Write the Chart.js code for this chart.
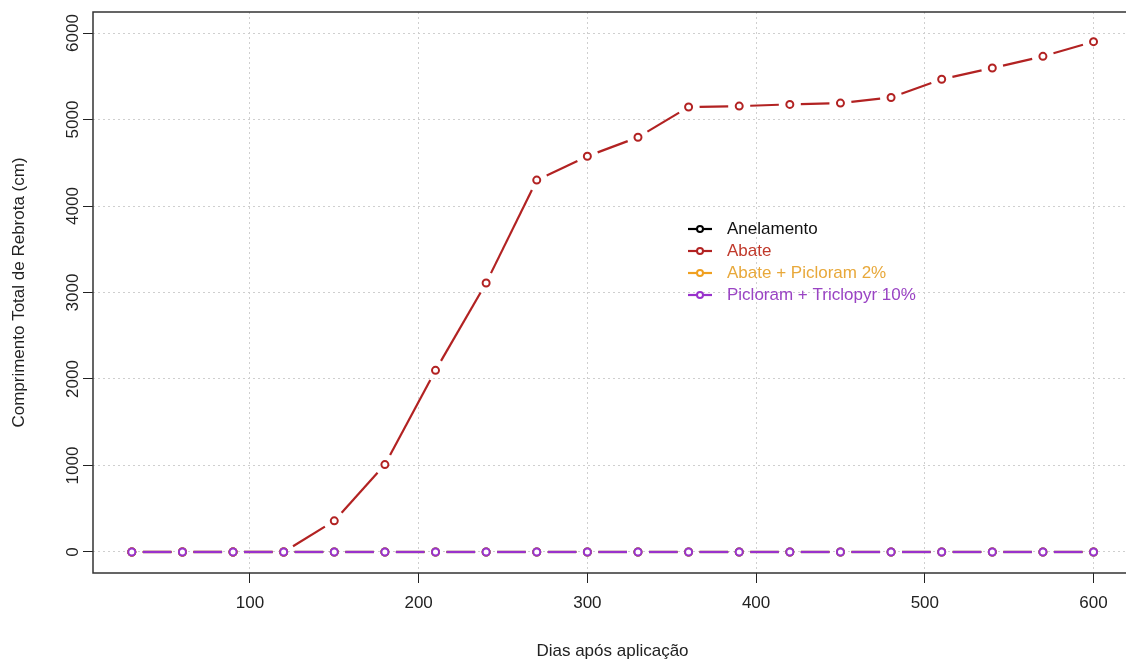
<!DOCTYPE html>
<html>
<head>
<meta charset="utf-8">
<script src="https://cdn.jsdelivr.net/npm/chart.js@4.4.1/dist/chart.umd.min.js"></script>
<style>
    html, body { margin: 0; padding: 0; background: #fff; overflow: hidden; }
    #wrap { width: 1140px; height: 662px; }
</style>
</head>
<body>
<div id="wrap"><canvas id="myChart" width="1140" height="662"></canvas></div>
<script>
// Chart data
const dias = [30, 60, 90, 120, 150, 180, 210, 240, 270, 300, 330, 360, 390, 420, 450, 480, 510, 540, 570, 600];
const anelamento = [0, 0, 0, 0, 0, 0, 0, 0, 0, 0, 0, 0, 0, 0, 0, 0, 0, 0, 0, 0];
const abate = [0, 0, 0, 0, 360, 1010, 2100, 3110, 4300, 4575, 4795, 5145, 5155, 5175, 5190, 5255, 5465, 5595, 5730, 5900];
const abatePicloram = [0, 0, 0, 0, 0, 0, 0, 0, 0, 0, 0, 0, 0, 0, 0, 0, 0, 0, 0, 0];
const picloramTriclopyr = [0, 0, 0, 0, 0, 0, 0, 0, 0, 0, 0, 0, 0, 0, 0, 0, 0, 0, 0, 0];
const seriesNames = ['Anelamento', 'Abate', 'Abate + Picloram 2%', 'Picloram + Triclopyr 10%'];
const xTicks = [100, 200, 300, 400, 500, 600];
const yTicks = [0, 1000, 2000, 3000, 4000, 5000, 6000];

const colors = ['#000000', '#b22222', '#f0a020', '#9932cc'];
const textColors = ['#111111', '#c0392b', '#e8a83a', '#9a44c4'];
const FONT = "'Liberation Sans', Arial, sans-serif";

// Build datasets from the series arrays
const seriesValues = [anelamento, abate, abatePicloram, picloramTriclopyr];
const datasets = seriesValues.map((vals, i) => ({
    label: seriesNames[i],
    data: dias.map((d, j) => ({ x: d, y: vals[j] })),
    borderColor: colors[i],
    backgroundColor: colors[i],
    pointBorderColor: colors[i],
    pointBackgroundColor: '#ffffff',
    pointRadius: 3.5,
    pointBorderWidth: 2,
    showLine: false,
    order: 4 - i
}));

// Lines with gaps around the points (like R type = "b")
const gapLines = {
    id: 'gapLines',
    beforeDatasetDraw(chart, args) {
        const ctx = chart.ctx;
        const pts = args.meta.data;
        const gap = 11;
        ctx.save();
        ctx.strokeStyle = colors[args.index];
        ctx.lineWidth = 2.2;
        ctx.lineCap = 'butt';
        for (let i = 0; i < pts.length - 1; i++) {
            const p0 = pts[i], p1 = pts[i + 1];
            const dx = p1.x - p0.x, dy = p1.y - p0.y;
            const len = Math.sqrt(dx * dx + dy * dy);
            if (len <= 2 * gap) continue;
            const ux = dx / len, uy = dy / len;
            ctx.beginPath();
            ctx.moveTo(p0.x + ux * gap, p0.y + uy * gap);
            ctx.lineTo(p1.x - ux * gap, p1.y - uy * gap);
            ctx.stroke();
        }
        ctx.restore();
    }
};

// Box, y tick labels, axis title and legend
const decorations = {
    id: 'decorations',
    afterDraw(chart) {
        const ctx = chart.ctx;
        const area = chart.chartArea;
        const yScale = chart.scales.y;
        ctx.save();

        // Box around plot region
        ctx.strokeStyle = '#333';
        ctx.lineWidth = 1.5;
        ctx.strokeRect(area.left, area.top, area.right - area.left, area.bottom - area.top);

        // Rotated y tick labels
        ctx.fillStyle = '#222';
        ctx.font = '17px ' + FONT;
        ctx.textAlign = 'center';
        ctx.textBaseline = 'middle';
        yTicks.forEach(v => {
            ctx.save();
            ctx.translate(73, yScale.getPixelForValue(v));
            ctx.rotate(-Math.PI / 2);
            ctx.fillText(String(v), 0, 0);
            ctx.restore();
        });

        // Y axis title
        ctx.save();
        ctx.translate(19, (area.top + area.bottom) / 2);
        ctx.rotate(-Math.PI / 2);
        ctx.fillText('Comprimento Total de Rebrota (cm)', 0, 0);
        ctx.restore();

        // Legend
        const lx = 688, ly = 229, step = 22;
        seriesNames.forEach((name, i) => {
            const y = ly + i * step;
            ctx.strokeStyle = colors[i];
            ctx.lineWidth = 2.2;
            ctx.beginPath();
            ctx.moveTo(lx, y);
            ctx.lineTo(lx + 24, y);
            ctx.stroke();
            ctx.beginPath();
            ctx.arc(lx + 12, y, 3, 0, Math.PI * 2);
            ctx.fillStyle = '#fff';
            ctx.fill();
            ctx.lineWidth = 2;
            ctx.stroke();
            ctx.fillStyle = textColors[i];
            ctx.textAlign = 'left';
            ctx.textBaseline = 'middle';
            ctx.fillText(name, lx + 39, y);
        });
        ctx.restore();
    }
};

const ctx = document.getElementById('myChart').getContext('2d');
new Chart(ctx, {
    type: 'scatter',
    data: { datasets: datasets },
    options: {
        responsive: false,
        animation: false,
        events: [],
        layout: { padding: { top: 12, right: 8, left: 0, bottom: 0 } },
        plugins: {
            legend: { display: false },
            tooltip: { enabled: false }
        },
        scales: {
            x: {
                type: 'linear',
                min: 7,
                max: 622.8,
                afterBuildTicks: scale => { scale.ticks = xTicks.map(v => ({ value: v })); },
                afterFit: scale => { scale.height = 89; },
                border: { display: false, dash: [2, 3] },
                grid: {
                    color: '#cfcfcf',
                    lineWidth: 1,
                    tickColor: '#222',
                    tickLength: 10,
                    tickWidth: 1
                },
                ticks: {
                    color: '#222',
                    font: { family: FONT, size: 17 },
                    padding: 10,
                    maxRotation: 0
                },
                title: {
                    display: true,
                    text: 'Dias após aplicação',
                    color: '#222',
                    font: { family: FONT, size: 17, lineHeight: 1.2 },
                    padding: { top: 0, bottom: 0 }
                }
            },
            y: {
                type: 'linear',
                min: -243,
                max: 6243,
                afterBuildTicks: scale => { scale.ticks = yTicks.map(v => ({ value: v })); },
                afterFit: scale => { scale.width = 93; },
                border: { display: false, dash: [2, 3] },
                grid: {
                    color: '#cfcfcf',
                    lineWidth: 1,
                    tickColor: '#222',
                    tickLength: 10,
                    tickWidth: 1
                },
                ticks: { display: false }
            }
        }
    },
    plugins: [gapLines, decorations]
});
</script>
</body>
</html>
